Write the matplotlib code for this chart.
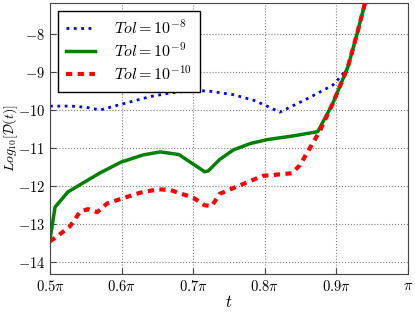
import numpy as np
import matplotlib
matplotlib.use("Agg")
import matplotlib.pyplot as plt

plt.rcParams['mathtext.fontset'] = 'cm'
plt.rcParams['font.family'] = 'serif'
plt.rcParams['font.serif'] = ['DejaVu Serif']

# t values in units of pi
t_blue = [0.5, 0.53, 0.55, 0.57, 0.6, 0.64, 0.67, 0.695, 0.72, 0.756, 0.785, 0.803, 0.821,
          0.86, 0.895, 0.905, 0.916, 0.929, 0.94, 0.952]
y_blue = [-9.9, -9.9, -9.93, -10.0, -9.85, -9.65, -9.55, -9.5, -9.5, -9.6, -9.75, -9.9, -10.06,
          -9.7, -9.35, -9.15, -8.88, -8.0, -7.2, -6.5]

t_green = [0.5, 0.507, 0.525, 0.57, 0.599, 0.63, 0.654, 0.68, 0.70, 0.716, 0.721, 0.737,
           0.756, 0.78, 0.803, 0.84, 0.874, 0.895, 0.916, 0.929, 0.94, 0.952]
y_green = [-13.4, -12.55, -12.15, -11.65, -11.37, -11.18, -11.1, -11.17, -11.42, -11.62, -11.6, -11.3,
           -11.05, -10.88, -10.78, -10.68, -10.57, -9.83, -8.88, -8.0, -7.2, -6.5]

t_red = [0.5, 0.511, 0.528, 0.542, 0.553, 0.566, 0.58, 0.601, 0.626, 0.651, 0.668, 0.70,
         0.716, 0.726, 0.737, 0.756, 0.797, 0.838, 0.849, 0.86, 0.877, 0.895, 0.916,
         0.929, 0.94, 0.952]
y_red = [-13.45, -13.3, -13.05, -12.67, -12.6, -12.68, -12.45, -12.32, -12.17, -12.08, -12.1, -12.3,
         -12.5, -12.52, -12.2, -12.05, -11.73, -11.66, -11.45, -11.1, -10.55, -9.83, -8.88,
         -8.0, -7.2, -6.5]

x_ticks = [0.5, 0.6, 0.7, 0.8, 0.9, 1.0]
x_ticklabels = [r'$0.5\pi$', r'$0.6\pi$', r'$0.7\pi$', r'$0.8\pi$', r'$0.9\pi$', r'$\pi$']
y_ticks = [-14, -13, -12, -11, -10, -9, -8]

fig = plt.figure(figsize=(4.15, 3.12), dpi=100)
ax = fig.add_axes([0.1205, 0.122, 0.8625, 0.868])

ax.plot(np.array(t_blue) * np.pi, y_blue, color='blue', ls=':', lw=2, label=r'$Tol=10^{-8}$')
ax.plot(np.array(t_green) * np.pi, y_green, color='green', ls='-', lw=2.5, label=r'$Tol=10^{-9}$')
ax.plot(np.array(t_red) * np.pi, y_red, color='red', ls='--', lw=3, dashes=(1.5, 1.3),
        label=r'$Tol=10^{-10}$')

ax.set_xlim(0.5 * np.pi, np.pi)
ax.set_ylim(-14.3, -7.2)
ax.set_xticks(np.array(x_ticks) * np.pi)
ax.set_xticklabels(x_ticklabels, fontsize=10.5)
ax.set_yticks(y_ticks)
ax.set_yticklabels([r'$%d$' % v for v in y_ticks], fontsize=10.5)
ax.grid(True, ls=':', color='gray', lw=0.8)
ax.set_xlabel(r'$t$', fontsize=12, labelpad=0)
ax.set_ylabel(r'$Log_{10}[\mathcal{D}(t)]$', fontsize=10)
ax.yaxis.set_label_coords(-0.083, 0.5)
ax.tick_params(direction='in', length=4, color='#444444')
for s in ax.spines.values():
    s.set_color('#444444')

leg = ax.legend(loc='upper left', fontsize=11.5, fancybox=False, framealpha=1,
                handlelength=1.8, handletextpad=1.2, borderaxespad=0.5, labelspacing=0.3,
                borderpad=0.5)
leg.get_frame().set_edgecolor('black')

fig.savefig('out.png', dpi=100)
